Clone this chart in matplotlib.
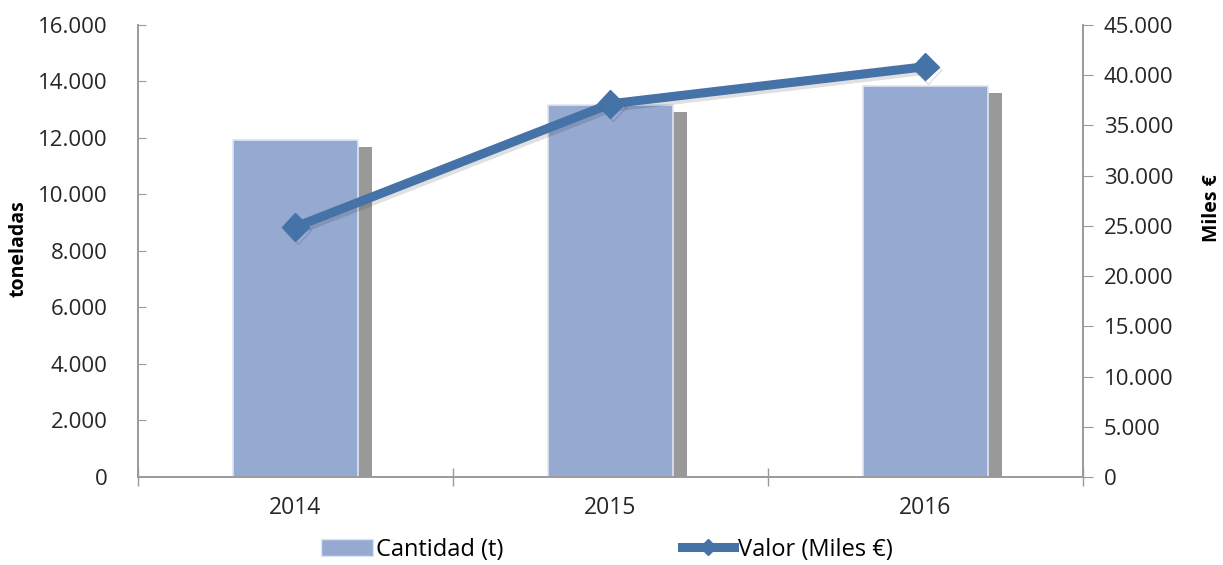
import numpy as np
import matplotlib
matplotlib.use("Agg")
import matplotlib.pyplot as plt
import matplotlib.patheffects as pe
from matplotlib.ticker import FuncFormatter, FixedLocator
from matplotlib.patches import Patch
from matplotlib.lines import Line2D

plt.rcParams['font.family'] = ['Open Sans', 'DejaVu Sans']

# data
years = ['2014', '2015', '2016']
cantidad = [11930, 13180, 13840]      # toneladas
valor = [24900, 37150, 40850]         # miles de euros

bar_col = '#95a9d1'
line_col = '#4572a7'
axis_col = '#9a9a9a'

def miles(v, pos):
    return "{:,}".format(int(round(v))).replace(",", ".")

fig = plt.figure(figsize=(12.23, 5.65), dpi=100)
ax = fig.add_axes([0.1128, 0.1558, 0.8855 - 0.1128, 0.9558 - 0.1558])
ax2 = ax.twinx()

x = np.arange(len(years))
ax.bar(x, cantidad, width=0.395, color=bar_col, edgecolor='#dfe5f1', linewidth=1.2,
       path_effects=[pe.SimplePatchShadow(offset=(10, -5), shadow_rgbFace='#999999', alpha=1.0),
                     pe.Normal()], zorder=2)

ax2.plot(x, valor, color=line_col, lw=6.5, marker='D', ms=14, mfc=line_col, mec=line_col,
         solid_joinstyle='round',
         path_effects=[pe.SimpleLineShadow(offset=(1.5, -2.5), shadow_color='k', alpha=0.12),
                       pe.Normal()])

ax.set_xlim(-0.5, 2.5)
ax.set_ylim(0, 16000)
ax2.set_ylim(0, 45000)
ax.set_yticks(np.arange(0, 16001, 2000))
ax2.set_yticks(np.arange(0, 45001, 5000))
ax.yaxis.set_major_formatter(FuncFormatter(miles))
ax2.yaxis.set_major_formatter(FuncFormatter(miles))

ax.set_xticks(x)
ax.set_xticklabels(years)
ax.xaxis.set_minor_locator(FixedLocator([-0.5, 0.5, 1.5, 2.5]))
ax.tick_params(axis='x', which='major', length=0, labelsize=16.5, pad=14, colors='#262626')
ax.tick_params(axis='x', which='minor', length=13, direction='inout', color=axis_col, width=1)
ax.tick_params(axis='y', direction='in', length=6, color=axis_col, labelsize=16, pad=22,
               labelcolor='#262626')
ax2.tick_params(axis='y', direction='out', length=7, color=axis_col, labelsize=16, pad=8,
                labelcolor='#262626')

for a in (ax, ax2):
    a.spines['top'].set_visible(False)
    for s in ('left', 'right', 'bottom'):
        a.spines[s].set_color(axis_col)
        a.spines[s].set_linewidth(1.2)

fig.text(0.015, 0.56, 'toneladas', rotation=90, ha='center', va='center',
         fontsize=14, fontweight='bold')
fig.text(0.991, 0.632, 'Miles €', rotation=90, ha='center', va='center',
         fontsize=14, fontweight='bold')

handles = [Patch(facecolor=bar_col, edgecolor='#dfe5f1'),
           Line2D([0], [0], color=line_col, lw=6.5, marker='D', ms=8)]
fig.legend(handles, ['Cantidad (t)', 'Valor (Miles €)'], loc='center',
           bbox_to_anchor=(0.4961, 0.027), ncol=2, frameon=False, fontsize=17,
           handlelength=2.2, handletextpad=0.15, columnspacing=7.56)

fig.savefig('out.png', dpi=100)
